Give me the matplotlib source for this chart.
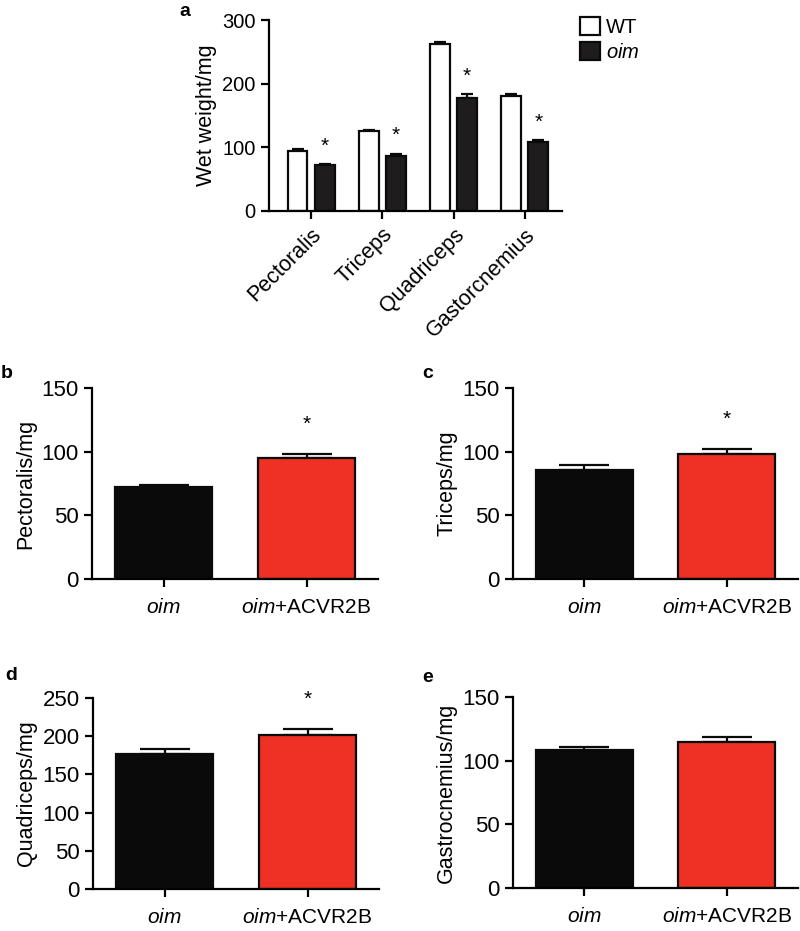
import matplotlib
matplotlib.use("Agg")
import matplotlib.pyplot as plt
import numpy as np
from matplotlib.patches import Patch

plt.rcParams['font.family'] = ['Liberation Sans', 'DejaVu Sans']
plt.rcParams['mathtext.fontset'] = 'custom'
plt.rcParams['mathtext.rm'] = 'Liberation Sans'
plt.rcParams['mathtext.it'] = 'Liberation Sans:italic'

# ---- data ----
muscles = ["Pectoralis", "Triceps", "Quadriceps", "Gastorcnemius"]
wt_vals = [95, 125, 263, 181]
wt_err = [3, 2, 3, 3]
oim_vals = [72, 86, 177, 109]
oim_err = [1.5, 4, 6, 2]

groups = ["$\\mathit{oim}$", "$\\mathit{oim}$+ACVR2B"]
pect_vals = [72.5, 95]
pect_err = [1.5, 3.5]
tri_vals = [85.5, 97.8]
tri_err = [3.7, 4.6]
quad_vals = [177, 201]
quad_err = [6, 8.5]
gas_vals = [108.5, 114.8]
gas_err = [2.5, 3.8]

panel_sig = {"b": [False, True], "c": [False, True], "d": [False, True], "e": [False, False]}

BLACK = "#0a0a0a"
RED = "#ee3124"
LW = 1.6

W, H = 800, 931
fig = plt.figure(figsize=(W / 100, H / 100), dpi=100)


def px_axes(l, t, r, b):
    return fig.add_axes([l / W, 1 - b / H, (r - l) / W, (b - t) / H])


def style(ax):
    for s in ["top", "right"]:
        ax.spines[s].set_visible(False)
    for s in ["left", "bottom"]:
        ax.spines[s].set_linewidth(LW)
    ax.tick_params(width=LW, length=6, direction="out", labelsize=16)


# ---- panel a ----
axa = px_axes(269, 20, 562, 211)
x = np.arange(len(muscles))
bw = 0.28
off = 0.19
axa.bar(x - off, wt_vals, bw, color="white", edgecolor=BLACK, linewidth=LW, zorder=2)
axa.errorbar(x - off, wt_vals, yerr=[np.zeros(4), wt_err], fmt="none", ecolor=BLACK,
             elinewidth=LW, capsize=4.5, capthick=LW, zorder=1)
axa.bar(x + off, oim_vals, bw, color="#1e1c1c", edgecolor=BLACK, linewidth=LW, zorder=2)
axa.errorbar(x + off, oim_vals, yerr=[np.zeros(4), oim_err], fmt="none", ecolor=BLACK,
             elinewidth=LW, capsize=4.5, capthick=LW, zorder=1)
for i in range(4):
    axa.annotate("*", (x[i] + off, oim_vals[i] + oim_err[i]), xytext=(0, 13),
                 textcoords="offset points", ha="center", va="center", fontsize=15)
axa.set_xlim(-0.59, 3.52)
axa.set_ylim(0, 300)
axa.set_yticks([0, 100, 200, 300])
axa.set_xticks(x)
axa.set_xticklabels(muscles, rotation=45, ha="right", va="top", rotation_mode="anchor")
style(axa)
axa.tick_params(axis="y", labelsize=14.5)
axa.tick_params(axis="x", labelsize=15.5)
axa.set_ylabel("Wet weight/mg", fontsize=15.5, labelpad=4)
handles = [Patch(facecolor="white", edgecolor=BLACK, linewidth=LW, label="WT"),
           Patch(facecolor="#1e1c1c", edgecolor=BLACK, linewidth=LW, label="$\\mathit{oim}$")]
fig.legend(handles=handles, loc="upper left", bbox_to_anchor=(580 / W, 1 - 17 / H),
           frameon=False, fontsize=14.5, handlelength=1.0, handleheight=1.0,
           handletextpad=0.3, labelspacing=0.25, borderaxespad=0, borderpad=0)
fig.text(185 / W, 1 - 12 / H, "a", fontsize=14, fontweight="bold", ha="center", va="center")


# ---- panels b-e ----
def small_panel(box, vals, errs, ylim, yticks, ylabel, sig, letter, lpos):
    ax = px_axes(*box)
    xx = np.arange(2)
    ax.bar(xx, vals, 0.68, color=[BLACK, RED], edgecolor=BLACK, linewidth=LW, zorder=2)
    ax.errorbar(xx, vals, yerr=[np.zeros(2), errs], fmt="none", ecolor=BLACK,
                elinewidth=LW, capsize=18, capthick=LW, zorder=1)
    for i in range(2):
        if sig[i]:
            ax.annotate("*", (xx[i], vals[i] + errs[i]), xytext=(0, 21),
                        textcoords="offset points", ha="center", va="center", fontsize=15)
    ax.set_xlim(-0.5, 1.5)
    ax.set_ylim(*ylim)
    ax.set_yticks(yticks)
    ax.set_xticks(xx)
    ax.set_xticklabels(groups)
    style(ax)
    ax.tick_params(axis="x", labelsize=15, pad=8)
    ax.set_ylabel(ylabel, fontsize=15.5, labelpad=4)
    fig.text(lpos[0] / W, 1 - lpos[1] / H, letter, fontsize=14, fontweight="bold",
             ha="center", va="center")
    return ax


small_panel((92, 388, 378, 579), pect_vals, pect_err, (0, 150), [0, 50, 100, 150],
            "Pectoralis/mg", panel_sig["b"], "b", (7, 373))
small_panel((513, 388, 798, 579), tri_vals, tri_err, (0, 150), [0, 50, 100, 150],
            "Triceps/mg", panel_sig["c"], "c", (428, 373))
small_panel((93, 698, 379, 889), quad_vals, quad_err, (0, 250), [0, 50, 100, 150, 200, 250],
            "Quadriceps/mg", panel_sig["d"], "d", (11, 676))
small_panel((513, 697, 798, 888), gas_vals, gas_err, (0, 150), [0, 50, 100, 150],
            "Gastrocnemius/mg", panel_sig["e"], "e", (428, 678))

fig.savefig("out.png", dpi=100)
